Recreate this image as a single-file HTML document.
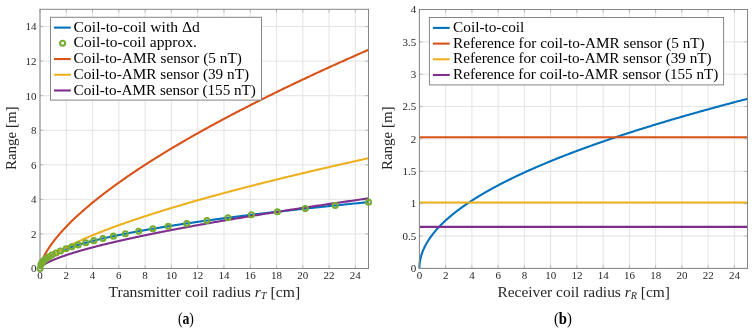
<!DOCTYPE html><html><head><meta charset="utf-8"><style>html,body{margin:0;padding:0;background:#fff;overflow:hidden}svg{display:block;will-change:transform}</style></head><body>
<svg width="754" height="333" viewBox="0 0 754 333" font-family='"Liberation Serif", serif'>
<rect width="754" height="333" fill="#fff"/>
<line x1="40.00" y1="9.30" x2="40.00" y2="268.50" stroke="#e3e3e3" stroke-width="1"/>
<line x1="66.28" y1="9.30" x2="66.28" y2="268.50" stroke="#e3e3e3" stroke-width="1"/>
<line x1="92.56" y1="9.30" x2="92.56" y2="268.50" stroke="#e3e3e3" stroke-width="1"/>
<line x1="118.84" y1="9.30" x2="118.84" y2="268.50" stroke="#e3e3e3" stroke-width="1"/>
<line x1="145.12" y1="9.30" x2="145.12" y2="268.50" stroke="#e3e3e3" stroke-width="1"/>
<line x1="171.40" y1="9.30" x2="171.40" y2="268.50" stroke="#e3e3e3" stroke-width="1"/>
<line x1="197.68" y1="9.30" x2="197.68" y2="268.50" stroke="#e3e3e3" stroke-width="1"/>
<line x1="223.96" y1="9.30" x2="223.96" y2="268.50" stroke="#e3e3e3" stroke-width="1"/>
<line x1="250.24" y1="9.30" x2="250.24" y2="268.50" stroke="#e3e3e3" stroke-width="1"/>
<line x1="276.52" y1="9.30" x2="276.52" y2="268.50" stroke="#e3e3e3" stroke-width="1"/>
<line x1="302.80" y1="9.30" x2="302.80" y2="268.50" stroke="#e3e3e3" stroke-width="1"/>
<line x1="329.08" y1="9.30" x2="329.08" y2="268.50" stroke="#e3e3e3" stroke-width="1"/>
<line x1="355.36" y1="9.30" x2="355.36" y2="268.50" stroke="#e3e3e3" stroke-width="1"/>
<line x1="40.00" y1="268.50" x2="368.50" y2="268.50" stroke="#e3e3e3" stroke-width="1"/>
<line x1="40.00" y1="233.94" x2="368.50" y2="233.94" stroke="#e3e3e3" stroke-width="1"/>
<line x1="40.00" y1="199.38" x2="368.50" y2="199.38" stroke="#e3e3e3" stroke-width="1"/>
<line x1="40.00" y1="164.82" x2="368.50" y2="164.82" stroke="#e3e3e3" stroke-width="1"/>
<line x1="40.00" y1="130.26" x2="368.50" y2="130.26" stroke="#e3e3e3" stroke-width="1"/>
<line x1="40.00" y1="95.70" x2="368.50" y2="95.70" stroke="#e3e3e3" stroke-width="1"/>
<line x1="40.00" y1="61.14" x2="368.50" y2="61.14" stroke="#e3e3e3" stroke-width="1"/>
<line x1="40.00" y1="26.58" x2="368.50" y2="26.58" stroke="#e3e3e3" stroke-width="1"/>
<line x1="419.40" y1="9.50" x2="419.40" y2="268.40" stroke="#e3e3e3" stroke-width="1"/>
<line x1="445.65" y1="9.50" x2="445.65" y2="268.40" stroke="#e3e3e3" stroke-width="1"/>
<line x1="471.90" y1="9.50" x2="471.90" y2="268.40" stroke="#e3e3e3" stroke-width="1"/>
<line x1="498.14" y1="9.50" x2="498.14" y2="268.40" stroke="#e3e3e3" stroke-width="1"/>
<line x1="524.39" y1="9.50" x2="524.39" y2="268.40" stroke="#e3e3e3" stroke-width="1"/>
<line x1="550.64" y1="9.50" x2="550.64" y2="268.40" stroke="#e3e3e3" stroke-width="1"/>
<line x1="576.89" y1="9.50" x2="576.89" y2="268.40" stroke="#e3e3e3" stroke-width="1"/>
<line x1="603.14" y1="9.50" x2="603.14" y2="268.40" stroke="#e3e3e3" stroke-width="1"/>
<line x1="629.38" y1="9.50" x2="629.38" y2="268.40" stroke="#e3e3e3" stroke-width="1"/>
<line x1="655.63" y1="9.50" x2="655.63" y2="268.40" stroke="#e3e3e3" stroke-width="1"/>
<line x1="681.88" y1="9.50" x2="681.88" y2="268.40" stroke="#e3e3e3" stroke-width="1"/>
<line x1="708.13" y1="9.50" x2="708.13" y2="268.40" stroke="#e3e3e3" stroke-width="1"/>
<line x1="734.38" y1="9.50" x2="734.38" y2="268.40" stroke="#e3e3e3" stroke-width="1"/>
<line x1="419.40" y1="268.40" x2="747.50" y2="268.40" stroke="#e3e3e3" stroke-width="1"/>
<line x1="419.40" y1="236.04" x2="747.50" y2="236.04" stroke="#e3e3e3" stroke-width="1"/>
<line x1="419.40" y1="203.67" x2="747.50" y2="203.67" stroke="#e3e3e3" stroke-width="1"/>
<line x1="419.40" y1="171.31" x2="747.50" y2="171.31" stroke="#e3e3e3" stroke-width="1"/>
<line x1="419.40" y1="138.95" x2="747.50" y2="138.95" stroke="#e3e3e3" stroke-width="1"/>
<line x1="419.40" y1="106.59" x2="747.50" y2="106.59" stroke="#e3e3e3" stroke-width="1"/>
<line x1="419.40" y1="74.22" x2="747.50" y2="74.22" stroke="#e3e3e3" stroke-width="1"/>
<line x1="419.40" y1="41.86" x2="747.50" y2="41.86" stroke="#e3e3e3" stroke-width="1"/>
<line x1="419.40" y1="9.50" x2="747.50" y2="9.50" stroke="#e3e3e3" stroke-width="1"/>
<path d="M40.00,268.50 L40.00,268.29 L40.01,268.09 L40.02,267.89 L40.03,267.70 L40.05,267.51 L40.07,267.32 L40.10,267.13 L40.13,266.95 L40.17,266.76 L40.21,266.58 L40.25,266.39 L40.30,266.21 L40.35,266.03 L40.40,265.84 L40.46,265.66 L40.53,265.48 L40.59,265.30 L40.67,265.12 L40.74,264.94 L40.82,264.76 L40.91,264.58 L40.99,264.40 L41.09,264.22 L41.18,264.04 L41.28,263.87 L41.39,263.69 L41.50,263.51 L41.61,263.33 L41.73,263.16 L41.85,262.98 L41.97,262.80 L42.10,262.63 L42.24,262.45 L42.37,262.28 L42.52,262.10 L42.66,261.92 L42.81,261.75 L42.96,261.57 L43.12,261.40 L43.29,261.22 L43.45,261.05 L43.62,260.88 L43.80,260.70 L43.97,260.53 L44.16,260.35 L44.34,260.18 L44.54,260.01 L44.73,259.83 L44.93,259.66 L45.13,259.49 L45.34,259.31 L45.55,259.14 L45.77,258.97 L45.99,258.80 L46.21,258.62 L46.44,258.45 L46.67,258.28 L46.91,258.11 L47.15,257.93 L47.39,257.76 L47.64,257.59 L47.89,257.42 L48.15,257.25 L48.41,257.08 L48.67,256.91 L48.94,256.73 L49.22,256.56 L49.49,256.39 L49.77,256.22 L50.06,256.05 L50.35,255.88 L50.64,255.71 L50.94,255.54 L51.24,255.37 L51.55,255.20 L51.86,255.03 L52.17,254.86 L52.49,254.69 L52.81,254.52 L53.14,254.35 L53.47,254.18 L53.81,254.01 L54.14,253.84 L54.49,253.67 L54.83,253.50 L55.18,253.33 L55.54,253.16 L55.90,252.99 L56.26,252.82 L56.63,252.65 L57.00,252.48 L57.38,252.32 L57.76,252.15 L58.14,251.98 L58.53,251.81 L58.92,251.64 L59.32,251.47 L59.72,251.30 L60.12,251.14 L60.53,250.97 L60.94,250.80 L61.36,250.63 L61.78,250.46 L62.21,250.29 L62.64,250.13 L63.07,249.96 L63.51,249.79 L63.95,249.62 L64.39,249.45 L64.84,249.29 L65.30,249.12 L65.75,248.95 L66.22,248.78 L66.68,248.62 L67.15,248.45 L67.63,248.28 L68.11,248.11 L68.59,247.95 L69.07,247.78 L69.56,247.61 L70.06,247.45 L70.56,247.28 L71.06,247.11 L71.57,246.95 L72.08,246.78 L72.60,246.61 L73.11,246.44 L73.64,246.28 L74.17,246.11 L74.70,245.94 L75.23,245.78 L75.77,245.61 L76.32,245.45 L76.87,245.28 L77.42,245.11 L77.97,244.95 L78.54,244.78 L79.10,244.61 L79.67,244.45 L80.24,244.28 L80.82,244.12 L81.40,243.95 L81.98,243.78 L82.57,243.62 L83.17,243.45 L83.76,243.29 L84.37,243.12 L84.97,242.95 L85.58,242.79 L86.20,242.62 L86.81,242.46 L87.44,242.29 L88.06,242.13 L88.69,241.96 L89.33,241.80 L89.96,241.63 L90.61,241.47 L91.25,241.30 L91.91,241.13 L92.56,240.97 L93.22,240.80 L93.88,240.64 L94.55,240.47 L95.22,240.31 L95.90,240.14 L96.58,239.98 L97.26,239.81 L97.95,239.65 L98.64,239.48 L99.34,239.32 L100.04,239.15 L100.74,238.99 L101.45,238.83 L102.16,238.66 L102.88,238.50 L103.60,238.33 L104.32,238.17 L105.05,238.00 L105.78,237.84 L106.52,237.67 L107.26,237.51 L108.01,237.34 L108.76,237.18 L109.51,237.02 L110.27,236.85 L111.03,236.69 L111.80,236.52 L112.57,236.36 L113.34,236.20 L114.12,236.03 L114.90,235.87 L115.69,235.70 L116.48,235.54 L117.27,235.38 L118.07,235.21 L118.87,235.05 L119.68,234.88 L120.49,234.72 L121.31,234.56 L122.12,234.39 L122.95,234.23 L123.78,234.07 L124.61,233.90 L125.44,233.74 L126.28,233.57 L127.13,233.41 L127.97,233.25 L128.83,233.08 L129.68,232.92 L130.54,232.76 L131.41,232.59 L132.28,232.43 L133.15,232.27 L134.02,232.10 L134.91,231.94 L135.79,231.78 L136.68,231.61 L137.57,231.45 L138.47,231.29 L139.37,231.12 L140.28,230.96 L141.19,230.80 L142.10,230.64 L143.02,230.47 L143.94,230.31 L144.87,230.15 L145.80,229.98 L146.73,229.82 L147.67,229.66 L148.61,229.50 L149.56,229.33 L150.51,229.17 L151.46,229.01 L152.42,228.84 L153.38,228.68 L154.35,228.52 L155.32,228.36 L156.30,228.19 L157.28,228.03 L158.26,227.87 L159.25,227.71 L160.24,227.54 L161.23,227.38 L162.23,227.22 L163.24,227.06 L164.25,226.89 L165.26,226.73 L166.28,226.57 L167.30,226.41 L168.32,226.24 L169.35,226.08 L170.38,225.92 L171.42,225.76 L172.46,225.60 L173.50,225.43 L174.55,225.27 L175.61,225.11 L176.66,224.95 L177.73,224.79 L178.79,224.62 L179.86,224.46 L180.93,224.30 L182.01,224.14 L183.09,223.98 L184.18,223.81 L185.27,223.65 L186.37,223.49 L187.46,223.33 L188.57,223.17 L189.67,223.00 L190.78,222.84 L191.90,222.68 L193.02,222.52 L194.14,222.36 L195.27,222.20 L196.40,222.03 L197.53,221.87 L198.67,221.71 L199.82,221.55 L200.96,221.39 L202.12,221.23 L203.27,221.06 L204.43,220.90 L205.60,220.74 L206.77,220.58 L207.94,220.42 L209.11,220.26 L210.29,220.10 L211.48,219.94 L212.67,219.77 L213.86,219.61 L215.06,219.45 L216.26,219.29 L217.46,219.13 L218.67,218.97 L219.89,218.81 L221.10,218.65 L222.33,218.48 L223.55,218.32 L224.78,218.16 L226.02,218.00 L227.25,217.84 L228.50,217.68 L229.74,217.52 L230.99,217.36 L232.25,217.20 L233.50,217.03 L234.77,216.87 L236.03,216.71 L237.31,216.55 L238.58,216.39 L239.86,216.23 L241.14,216.07 L242.43,215.91 L243.72,215.75 L245.02,215.59 L246.32,215.43 L247.62,215.27 L248.93,215.11 L250.24,214.94 L251.56,214.78 L252.88,214.62 L254.20,214.46 L255.53,214.30 L256.86,214.14 L258.20,213.98 L259.54,213.82 L260.88,213.66 L262.23,213.50 L263.59,213.34 L264.94,213.18 L266.30,213.02 L267.67,212.86 L269.04,212.70 L270.41,212.54 L271.79,212.38 L273.17,212.22 L274.56,212.06 L275.95,211.90 L277.34,211.73 L278.74,211.57 L280.14,211.41 L281.55,211.25 L282.96,211.09 L284.37,210.93 L285.79,210.77 L287.21,210.61 L288.64,210.45 L290.07,210.29 L291.51,210.13 L292.95,209.97 L294.39,209.81 L295.84,209.65 L297.29,209.49 L298.75,209.33 L300.20,209.17 L301.67,209.01 L303.14,208.85 L304.61,208.69 L306.08,208.53 L307.57,208.37 L309.05,208.21 L310.54,208.05 L312.03,207.89 L313.53,207.73 L315.03,207.57 L316.53,207.41 L318.04,207.25 L319.56,207.09 L321.07,206.93 L322.59,206.78 L324.12,206.62 L325.65,206.46 L327.18,206.30 L328.72,206.14 L330.26,205.98 L331.81,205.82 L333.36,205.66 L334.91,205.50 L336.47,205.34 L338.03,205.18 L339.60,205.02 L341.17,204.86 L342.75,204.70 L344.32,204.54 L345.91,204.38 L347.49,204.22 L349.09,204.06 L350.68,203.90 L352.28,203.74 L353.88,203.58 L355.49,203.42 L357.10,203.27 L358.72,203.11 L360.34,202.95 L361.96,202.79 L363.59,202.63 L365.22,202.47 L366.86,202.31 L368.50,202.15" fill="none" stroke="#0072BD" stroke-width="2.1"/>
<path d="M40.00,268.50 L40.00,268.41 L40.01,268.29 L40.02,268.14 L40.03,267.98 L40.05,267.80 L40.07,267.61 L40.10,267.41 L40.13,267.20 L40.17,266.98 L40.21,266.76 L40.25,266.53 L40.30,266.29 L40.35,266.04 L40.40,265.79 L40.46,265.54 L40.53,265.27 L40.59,265.01 L40.67,264.74 L40.74,264.46 L40.82,264.18 L40.91,263.89 L40.99,263.61 L41.09,263.31 L41.18,263.01 L41.28,262.71 L41.39,262.41 L41.50,262.10 L41.61,261.79 L41.73,261.47 L41.85,261.15 L41.97,260.83 L42.10,260.50 L42.24,260.17 L42.37,259.84 L42.52,259.51 L42.66,259.17 L42.81,258.83 L42.96,258.48 L43.12,258.14 L43.29,257.79 L43.45,257.44 L43.62,257.08 L43.80,256.72 L43.97,256.36 L44.16,256.00 L44.34,255.64 L44.54,255.27 L44.73,254.90 L44.93,254.53 L45.13,254.15 L45.34,253.77 L45.55,253.39 L45.77,253.01 L45.99,252.63 L46.21,252.24 L46.44,251.85 L46.67,251.46 L46.91,251.07 L47.15,250.68 L47.39,250.28 L47.64,249.88 L47.89,249.48 L48.15,249.08 L48.41,248.67 L48.67,248.27 L48.94,247.86 L49.22,247.45 L49.49,247.03 L49.77,246.62 L50.06,246.20 L50.35,245.78 L50.64,245.36 L50.94,244.94 L51.24,244.52 L51.55,244.09 L51.86,243.67 L52.17,243.24 L52.49,242.81 L52.81,242.37 L53.14,241.94 L53.47,241.50 L53.81,241.07 L54.14,240.63 L54.49,240.19 L54.83,239.75 L55.18,239.30 L55.54,238.86 L55.90,238.41 L56.26,237.96 L56.63,237.51 L57.00,237.06 L57.38,236.60 L57.76,236.15 L58.14,235.69 L58.53,235.23 L58.92,234.78 L59.32,234.31 L59.72,233.85 L60.12,233.39 L60.53,232.92 L60.94,232.46 L61.36,231.99 L61.78,231.52 L62.21,231.05 L62.64,230.57 L63.07,230.10 L63.51,229.63 L63.95,229.15 L64.39,228.67 L64.84,228.19 L65.30,227.71 L65.75,227.23 L66.22,226.75 L66.68,226.26 L67.15,225.77 L67.63,225.29 L68.11,224.80 L68.59,224.31 L69.07,223.82 L69.56,223.33 L70.06,222.83 L70.56,222.34 L71.06,221.84 L71.57,221.34 L72.08,220.84 L72.60,220.34 L73.11,219.84 L73.64,219.34 L74.17,218.84 L74.70,218.33 L75.23,217.82 L75.77,217.32 L76.32,216.81 L76.87,216.30 L77.42,215.79 L77.97,215.28 L78.54,214.76 L79.10,214.25 L79.67,213.73 L80.24,213.22 L80.82,212.70 L81.40,212.18 L81.98,211.66 L82.57,211.14 L83.17,210.62 L83.76,210.09 L84.37,209.57 L84.97,209.04 L85.58,208.51 L86.20,207.99 L86.81,207.46 L87.44,206.93 L88.06,206.40 L88.69,205.86 L89.33,205.33 L89.96,204.80 L90.61,204.26 L91.25,203.72 L91.91,203.19 L92.56,202.65 L93.22,202.11 L93.88,201.57 L94.55,201.03 L95.22,200.48 L95.90,199.94 L96.58,199.39 L97.26,198.85 L97.95,198.30 L98.64,197.75 L99.34,197.21 L100.04,196.66 L100.74,196.10 L101.45,195.55 L102.16,195.00 L102.88,194.45 L103.60,193.89 L104.32,193.34 L105.05,192.78 L105.78,192.22 L106.52,191.66 L107.26,191.10 L108.01,190.54 L108.76,189.98 L109.51,189.42 L110.27,188.85 L111.03,188.29 L111.80,187.72 L112.57,187.16 L113.34,186.59 L114.12,186.02 L114.90,185.45 L115.69,184.88 L116.48,184.31 L117.27,183.74 L118.07,183.17 L118.87,182.59 L119.68,182.02 L120.49,181.44 L121.31,180.87 L122.12,180.29 L122.95,179.71 L123.78,179.13 L124.61,178.55 L125.44,177.97 L126.28,177.39 L127.13,176.81 L127.97,176.22 L128.83,175.64 L129.68,175.05 L130.54,174.47 L131.41,173.88 L132.28,173.29 L133.15,172.70 L134.02,172.11 L134.91,171.52 L135.79,170.93 L136.68,170.34 L137.57,169.75 L138.47,169.15 L139.37,168.56 L140.28,167.96 L141.19,167.37 L142.10,166.77 L143.02,166.17 L143.94,165.57 L144.87,164.97 L145.80,164.37 L146.73,163.77 L147.67,163.17 L148.61,162.57 L149.56,161.96 L150.51,161.36 L151.46,160.75 L152.42,160.15 L153.38,159.54 L154.35,158.93 L155.32,158.32 L156.30,157.71 L157.28,157.10 L158.26,156.49 L159.25,155.88 L160.24,155.27 L161.23,154.66 L162.23,154.04 L163.24,153.43 L164.25,152.81 L165.26,152.19 L166.28,151.58 L167.30,150.96 L168.32,150.34 L169.35,149.72 L170.38,149.10 L171.42,148.48 L172.46,147.86 L173.50,147.23 L174.55,146.61 L175.61,145.99 L176.66,145.36 L177.73,144.74 L178.79,144.11 L179.86,143.48 L180.93,142.86 L182.01,142.23 L183.09,141.60 L184.18,140.97 L185.27,140.34 L186.37,139.70 L187.46,139.07 L188.57,138.44 L189.67,137.81 L190.78,137.17 L191.90,136.54 L193.02,135.90 L194.14,135.26 L195.27,134.63 L196.40,133.99 L197.53,133.35 L198.67,132.71 L199.82,132.07 L200.96,131.43 L202.12,130.79 L203.27,130.14 L204.43,129.50 L205.60,128.86 L206.77,128.21 L207.94,127.57 L209.11,126.92 L210.29,126.28 L211.48,125.63 L212.67,124.98 L213.86,124.33 L215.06,123.68 L216.26,123.03 L217.46,122.38 L218.67,121.73 L219.89,121.08 L221.10,120.43 L222.33,119.77 L223.55,119.12 L224.78,118.46 L226.02,117.81 L227.25,117.15 L228.50,116.49 L229.74,115.84 L230.99,115.18 L232.25,114.52 L233.50,113.86 L234.77,113.20 L236.03,112.54 L237.31,111.88 L238.58,111.22 L239.86,110.55 L241.14,109.89 L242.43,109.23 L243.72,108.56 L245.02,107.89 L246.32,107.23 L247.62,106.56 L248.93,105.89 L250.24,105.23 L251.56,104.56 L252.88,103.89 L254.20,103.22 L255.53,102.55 L256.86,101.88 L258.20,101.20 L259.54,100.53 L260.88,99.86 L262.23,99.18 L263.59,98.51 L264.94,97.84 L266.30,97.16 L267.67,96.48 L269.04,95.81 L270.41,95.13 L271.79,94.45 L273.17,93.77 L274.56,93.09 L275.95,92.41 L277.34,91.73 L278.74,91.05 L280.14,90.37 L281.55,89.68 L282.96,89.00 L284.37,88.32 L285.79,87.63 L287.21,86.95 L288.64,86.26 L290.07,85.58 L291.51,84.89 L292.95,84.20 L294.39,83.51 L295.84,82.82 L297.29,82.14 L298.75,81.45 L300.20,80.75 L301.67,80.06 L303.14,79.37 L304.61,78.68 L306.08,77.99 L307.57,77.29 L309.05,76.60 L310.54,75.90 L312.03,75.21 L313.53,74.51 L315.03,73.82 L316.53,73.12 L318.04,72.42 L319.56,71.72 L321.07,71.02 L322.59,70.32 L324.12,69.62 L325.65,68.92 L327.18,68.22 L328.72,67.52 L330.26,66.82 L331.81,66.12 L333.36,65.41 L334.91,64.71 L336.47,64.00 L338.03,63.30 L339.60,62.59 L341.17,61.89 L342.75,61.18 L344.32,60.47 L345.91,59.76 L347.49,59.05 L349.09,58.35 L350.68,57.64 L352.28,56.92 L353.88,56.21 L355.49,55.50 L357.10,54.79 L358.72,54.08 L360.34,53.36 L361.96,52.65 L363.59,51.94 L365.22,51.22 L366.86,50.51 L368.50,49.79" fill="none" stroke="#D95319" stroke-width="2.1"/>
<path d="M40.00,268.50 L40.00,268.46 L40.01,268.39 L40.02,268.32 L40.03,268.24 L40.05,268.15 L40.07,268.05 L40.10,267.95 L40.13,267.84 L40.17,267.73 L40.21,267.62 L40.25,267.50 L40.30,267.38 L40.35,267.26 L40.40,267.13 L40.46,267.01 L40.53,266.87 L40.59,266.74 L40.67,266.60 L40.74,266.46 L40.82,266.32 L40.91,266.18 L40.99,266.03 L41.09,265.88 L41.18,265.73 L41.28,265.58 L41.39,265.43 L41.50,265.27 L41.61,265.11 L41.73,264.96 L41.85,264.79 L41.97,264.63 L42.10,264.47 L42.24,264.30 L42.37,264.13 L42.52,263.97 L42.66,263.79 L42.81,263.62 L42.96,263.45 L43.12,263.27 L43.29,263.10 L43.45,262.92 L43.62,262.74 L43.80,262.56 L43.97,262.38 L44.16,262.20 L44.34,262.01 L44.54,261.83 L44.73,261.64 L44.93,261.45 L45.13,261.26 L45.34,261.07 L45.55,260.88 L45.77,260.69 L45.99,260.50 L46.21,260.30 L46.44,260.11 L46.67,259.91 L46.91,259.71 L47.15,259.51 L47.39,259.31 L47.64,259.11 L47.89,258.91 L48.15,258.71 L48.41,258.50 L48.67,258.30 L48.94,258.09 L49.22,257.88 L49.49,257.67 L49.77,257.47 L50.06,257.26 L50.35,257.04 L50.64,256.83 L50.94,256.62 L51.24,256.41 L51.55,256.19 L51.86,255.98 L52.17,255.76 L52.49,255.54 L52.81,255.33 L53.14,255.11 L53.47,254.89 L53.81,254.67 L54.14,254.44 L54.49,254.22 L54.83,254.00 L55.18,253.78 L55.54,253.55 L55.90,253.33 L56.26,253.10 L56.63,252.87 L57.00,252.64 L57.38,252.42 L57.76,252.19 L58.14,251.96 L58.53,251.72 L58.92,251.49 L59.32,251.26 L59.72,251.03 L60.12,250.79 L60.53,250.56 L60.94,250.32 L61.36,250.09 L61.78,249.85 L62.21,249.61 L62.64,249.37 L63.07,249.14 L63.51,248.90 L63.95,248.66 L64.39,248.41 L64.84,248.17 L65.30,247.93 L65.75,247.69 L66.22,247.44 L66.68,247.20 L67.15,246.95 L67.63,246.71 L68.11,246.46 L68.59,246.22 L69.07,245.97 L69.56,245.72 L70.06,245.47 L70.56,245.22 L71.06,244.97 L71.57,244.72 L72.08,244.47 L72.60,244.22 L73.11,243.96 L73.64,243.71 L74.17,243.46 L74.70,243.20 L75.23,242.95 L75.77,242.69 L76.32,242.43 L76.87,242.18 L77.42,241.92 L77.97,241.66 L78.54,241.40 L79.10,241.14 L79.67,240.88 L80.24,240.62 L80.82,240.36 L81.40,240.10 L81.98,239.84 L82.57,239.57 L83.17,239.31 L83.76,239.05 L84.37,238.78 L84.97,238.52 L85.58,238.25 L86.20,237.98 L86.81,237.72 L87.44,237.45 L88.06,237.18 L88.69,236.91 L89.33,236.64 L89.96,236.38 L90.61,236.11 L91.25,235.83 L91.91,235.56 L92.56,235.29 L93.22,235.02 L93.88,234.75 L94.55,234.47 L95.22,234.20 L95.90,233.93 L96.58,233.65 L97.26,233.38 L97.95,233.10 L98.64,232.82 L99.34,232.55 L100.04,232.27 L100.74,231.99 L101.45,231.71 L102.16,231.43 L102.88,231.16 L103.60,230.88 L104.32,230.60 L105.05,230.31 L105.78,230.03 L106.52,229.75 L107.26,229.47 L108.01,229.19 L108.76,228.90 L109.51,228.62 L110.27,228.34 L111.03,228.05 L111.80,227.77 L112.57,227.48 L113.34,227.19 L114.12,226.91 L114.90,226.62 L115.69,226.33 L116.48,226.05 L117.27,225.76 L118.07,225.47 L118.87,225.18 L119.68,224.89 L120.49,224.60 L121.31,224.31 L122.12,224.02 L122.95,223.73 L123.78,223.43 L124.61,223.14 L125.44,222.85 L126.28,222.55 L127.13,222.26 L127.97,221.97 L128.83,221.67 L129.68,221.38 L130.54,221.08 L131.41,220.78 L132.28,220.49 L133.15,220.19 L134.02,219.89 L134.91,219.60 L135.79,219.30 L136.68,219.00 L137.57,218.70 L138.47,218.40 L139.37,218.10 L140.28,217.80 L141.19,217.50 L142.10,217.20 L143.02,216.90 L143.94,216.60 L144.87,216.29 L145.80,215.99 L146.73,215.69 L147.67,215.38 L148.61,215.08 L149.56,214.77 L150.51,214.47 L151.46,214.16 L152.42,213.86 L153.38,213.55 L154.35,213.25 L155.32,212.94 L156.30,212.63 L157.28,212.32 L158.26,212.02 L159.25,211.71 L160.24,211.40 L161.23,211.09 L162.23,210.78 L163.24,210.47 L164.25,210.16 L165.26,209.85 L166.28,209.54 L167.30,209.23 L168.32,208.91 L169.35,208.60 L170.38,208.29 L171.42,207.97 L172.46,207.66 L173.50,207.35 L174.55,207.03 L175.61,206.72 L176.66,206.40 L177.73,206.09 L178.79,205.77 L179.86,205.46 L180.93,205.14 L182.01,204.82 L183.09,204.50 L184.18,204.19 L185.27,203.87 L186.37,203.55 L187.46,203.23 L188.57,202.91 L189.67,202.59 L190.78,202.27 L191.90,201.95 L193.02,201.63 L194.14,201.31 L195.27,200.99 L196.40,200.67 L197.53,200.35 L198.67,200.02 L199.82,199.70 L200.96,199.38 L202.12,199.05 L203.27,198.73 L204.43,198.40 L205.60,198.08 L206.77,197.76 L207.94,197.43 L209.11,197.10 L210.29,196.78 L211.48,196.45 L212.67,196.13 L213.86,195.80 L215.06,195.47 L216.26,195.14 L217.46,194.81 L218.67,194.49 L219.89,194.16 L221.10,193.83 L222.33,193.50 L223.55,193.17 L224.78,192.84 L226.02,192.51 L227.25,192.18 L228.50,191.85 L229.74,191.51 L230.99,191.18 L232.25,190.85 L233.50,190.52 L234.77,190.18 L236.03,189.85 L237.31,189.52 L238.58,189.18 L239.86,188.85 L241.14,188.51 L242.43,188.18 L243.72,187.84 L245.02,187.51 L246.32,187.17 L247.62,186.84 L248.93,186.50 L250.24,186.16 L251.56,185.83 L252.88,185.49 L254.20,185.15 L255.53,184.81 L256.86,184.47 L258.20,184.14 L259.54,183.80 L260.88,183.46 L262.23,183.12 L263.59,182.78 L264.94,182.44 L266.30,182.10 L267.67,181.75 L269.04,181.41 L270.41,181.07 L271.79,180.73 L273.17,180.39 L274.56,180.04 L275.95,179.70 L277.34,179.36 L278.74,179.01 L280.14,178.67 L281.55,178.33 L282.96,177.98 L284.37,177.64 L285.79,177.29 L287.21,176.95 L288.64,176.60 L290.07,176.25 L291.51,175.91 L292.95,175.56 L294.39,175.21 L295.84,174.87 L297.29,174.52 L298.75,174.17 L300.20,173.82 L301.67,173.47 L303.14,173.13 L304.61,172.78 L306.08,172.43 L307.57,172.08 L309.05,171.73 L310.54,171.38 L312.03,171.03 L313.53,170.67 L315.03,170.32 L316.53,169.97 L318.04,169.62 L319.56,169.27 L321.07,168.92 L322.59,168.56 L324.12,168.21 L325.65,167.86 L327.18,167.50 L328.72,167.15 L330.26,166.79 L331.81,166.44 L333.36,166.09 L334.91,165.73 L336.47,165.38 L338.03,165.02 L339.60,164.66 L341.17,164.31 L342.75,163.95 L344.32,163.59 L345.91,163.24 L347.49,162.88 L349.09,162.52 L350.68,162.16 L352.28,161.81 L353.88,161.45 L355.49,161.09 L357.10,160.73 L358.72,160.37 L360.34,160.01 L361.96,159.65 L363.59,159.29 L365.22,158.93 L366.86,158.57 L368.50,158.21" fill="none" stroke="#EDB120" stroke-width="2.1"/>
<path d="M40.00,268.50 L40.00,268.47 L40.01,268.43 L40.02,268.38 L40.03,268.33 L40.05,268.27 L40.07,268.21 L40.10,268.15 L40.13,268.08 L40.17,268.01 L40.21,267.94 L40.25,267.87 L40.30,267.79 L40.35,267.71 L40.40,267.63 L40.46,267.55 L40.53,267.47 L40.59,267.38 L40.67,267.29 L40.74,267.21 L40.82,267.12 L40.91,267.02 L40.99,266.93 L41.09,266.84 L41.18,266.74 L41.28,266.65 L41.39,266.55 L41.50,266.45 L41.61,266.35 L41.73,266.25 L41.85,266.14 L41.97,266.04 L42.10,265.94 L42.24,265.83 L42.37,265.73 L42.52,265.62 L42.66,265.51 L42.81,265.40 L42.96,265.29 L43.12,265.18 L43.29,265.07 L43.45,264.95 L43.62,264.84 L43.80,264.73 L43.97,264.61 L44.16,264.49 L44.34,264.38 L44.54,264.26 L44.73,264.14 L44.93,264.02 L45.13,263.90 L45.34,263.78 L45.55,263.66 L45.77,263.54 L45.99,263.41 L46.21,263.29 L46.44,263.16 L46.67,263.04 L46.91,262.91 L47.15,262.79 L47.39,262.66 L47.64,262.53 L47.89,262.40 L48.15,262.27 L48.41,262.15 L48.67,262.01 L48.94,261.88 L49.22,261.75 L49.49,261.62 L49.77,261.49 L50.06,261.35 L50.35,261.22 L50.64,261.08 L50.94,260.95 L51.24,260.81 L51.55,260.68 L51.86,260.54 L52.17,260.40 L52.49,260.27 L52.81,260.13 L53.14,259.99 L53.47,259.85 L53.81,259.71 L54.14,259.57 L54.49,259.43 L54.83,259.28 L55.18,259.14 L55.54,259.00 L55.90,258.86 L56.26,258.71 L56.63,258.57 L57.00,258.42 L57.38,258.28 L57.76,258.13 L58.14,257.98 L58.53,257.84 L58.92,257.69 L59.32,257.54 L59.72,257.39 L60.12,257.25 L60.53,257.10 L60.94,256.95 L61.36,256.80 L61.78,256.65 L62.21,256.50 L62.64,256.34 L63.07,256.19 L63.51,256.04 L63.95,255.89 L64.39,255.73 L64.84,255.58 L65.30,255.43 L65.75,255.27 L66.22,255.12 L66.68,254.96 L67.15,254.81 L67.63,254.65 L68.11,254.49 L68.59,254.34 L69.07,254.18 L69.56,254.02 L70.06,253.86 L70.56,253.70 L71.06,253.54 L71.57,253.39 L72.08,253.23 L72.60,253.07 L73.11,252.90 L73.64,252.74 L74.17,252.58 L74.70,252.42 L75.23,252.26 L75.77,252.10 L76.32,251.93 L76.87,251.77 L77.42,251.61 L77.97,251.44 L78.54,251.28 L79.10,251.11 L79.67,250.95 L80.24,250.78 L80.82,250.61 L81.40,250.45 L81.98,250.28 L82.57,250.11 L83.17,249.95 L83.76,249.78 L84.37,249.61 L84.97,249.44 L85.58,249.27 L86.20,249.10 L86.81,248.94 L87.44,248.77 L88.06,248.60 L88.69,248.42 L89.33,248.25 L89.96,248.08 L90.61,247.91 L91.25,247.74 L91.91,247.57 L92.56,247.39 L93.22,247.22 L93.88,247.05 L94.55,246.87 L95.22,246.70 L95.90,246.53 L96.58,246.35 L97.26,246.18 L97.95,246.00 L98.64,245.83 L99.34,245.65 L100.04,245.47 L100.74,245.30 L101.45,245.12 L102.16,244.94 L102.88,244.76 L103.60,244.59 L104.32,244.41 L105.05,244.23 L105.78,244.05 L106.52,243.87 L107.26,243.69 L108.01,243.51 L108.76,243.33 L109.51,243.15 L110.27,242.97 L111.03,242.79 L111.80,242.61 L112.57,242.43 L113.34,242.25 L114.12,242.06 L114.90,241.88 L115.69,241.70 L116.48,241.52 L117.27,241.33 L118.07,241.15 L118.87,240.97 L119.68,240.78 L120.49,240.60 L121.31,240.41 L122.12,240.23 L122.95,240.04 L123.78,239.86 L124.61,239.67 L125.44,239.48 L126.28,239.30 L127.13,239.11 L127.97,238.92 L128.83,238.74 L129.68,238.55 L130.54,238.36 L131.41,238.17 L132.28,237.98 L133.15,237.80 L134.02,237.61 L134.91,237.42 L135.79,237.23 L136.68,237.04 L137.57,236.85 L138.47,236.66 L139.37,236.47 L140.28,236.28 L141.19,236.09 L142.10,235.89 L143.02,235.70 L143.94,235.51 L144.87,235.32 L145.80,235.13 L146.73,234.93 L147.67,234.74 L148.61,234.55 L149.56,234.35 L150.51,234.16 L151.46,233.97 L152.42,233.77 L153.38,233.58 L154.35,233.38 L155.32,233.19 L156.30,232.99 L157.28,232.80 L158.26,232.60 L159.25,232.40 L160.24,232.21 L161.23,232.01 L162.23,231.81 L163.24,231.62 L164.25,231.42 L165.26,231.22 L166.28,231.02 L167.30,230.83 L168.32,230.63 L169.35,230.43 L170.38,230.23 L171.42,230.03 L172.46,229.83 L173.50,229.63 L174.55,229.43 L175.61,229.23 L176.66,229.03 L177.73,228.83 L178.79,228.63 L179.86,228.43 L180.93,228.23 L182.01,228.03 L183.09,227.83 L184.18,227.62 L185.27,227.42 L186.37,227.22 L187.46,227.02 L188.57,226.81 L189.67,226.61 L190.78,226.41 L191.90,226.20 L193.02,226.00 L194.14,225.80 L195.27,225.59 L196.40,225.39 L197.53,225.18 L198.67,224.98 L199.82,224.77 L200.96,224.57 L202.12,224.36 L203.27,224.16 L204.43,223.95 L205.60,223.74 L206.77,223.54 L207.94,223.33 L209.11,223.12 L210.29,222.92 L211.48,222.71 L212.67,222.50 L213.86,222.29 L215.06,222.08 L216.26,221.88 L217.46,221.67 L218.67,221.46 L219.89,221.25 L221.10,221.04 L222.33,220.83 L223.55,220.62 L224.78,220.41 L226.02,220.20 L227.25,219.99 L228.50,219.78 L229.74,219.57 L230.99,219.36 L232.25,219.15 L233.50,218.94 L234.77,218.72 L236.03,218.51 L237.31,218.30 L238.58,218.09 L239.86,217.88 L241.14,217.66 L242.43,217.45 L243.72,217.24 L245.02,217.02 L246.32,216.81 L247.62,216.60 L248.93,216.38 L250.24,216.17 L251.56,215.95 L252.88,215.74 L254.20,215.53 L255.53,215.31 L256.86,215.09 L258.20,214.88 L259.54,214.66 L260.88,214.45 L262.23,214.23 L263.59,214.02 L264.94,213.80 L266.30,213.58 L267.67,213.37 L269.04,213.15 L270.41,212.93 L271.79,212.71 L273.17,212.50 L274.56,212.28 L275.95,212.06 L277.34,211.84 L278.74,211.62 L280.14,211.41 L281.55,211.19 L282.96,210.97 L284.37,210.75 L285.79,210.53 L287.21,210.31 L288.64,210.09 L290.07,209.87 L291.51,209.65 L292.95,209.43 L294.39,209.21 L295.84,208.99 L297.29,208.77 L298.75,208.55 L300.20,208.33 L301.67,208.10 L303.14,207.88 L304.61,207.66 L306.08,207.44 L307.57,207.22 L309.05,206.99 L310.54,206.77 L312.03,206.55 L313.53,206.32 L315.03,206.10 L316.53,205.88 L318.04,205.65 L319.56,205.43 L321.07,205.21 L322.59,204.98 L324.12,204.76 L325.65,204.53 L327.18,204.31 L328.72,204.08 L330.26,203.86 L331.81,203.63 L333.36,203.41 L334.91,203.18 L336.47,202.96 L338.03,202.73 L339.60,202.50 L341.17,202.28 L342.75,202.05 L344.32,201.82 L345.91,201.60 L347.49,201.37 L349.09,201.14 L350.68,200.92 L352.28,200.69 L353.88,200.46 L355.49,200.23 L357.10,200.00 L358.72,199.77 L360.34,199.55 L361.96,199.32 L363.59,199.09 L365.22,198.86 L366.86,198.63 L368.50,198.40" fill="none" stroke="#7E2F8E" stroke-width="2.1"/>
<path d="M419.40,268.40 L419.40,267.98 L419.41,267.55 L419.42,267.13 L419.43,266.70 L419.45,266.28 L419.47,265.86 L419.50,265.43 L419.53,265.01 L419.57,264.58 L419.61,264.16 L419.65,263.74 L419.70,263.31 L419.75,262.89 L419.80,262.46 L419.86,262.04 L419.92,261.62 L419.99,261.19 L420.06,260.77 L420.14,260.34 L420.22,259.92 L420.30,259.50 L420.39,259.07 L420.48,258.65 L420.58,258.23 L420.68,257.80 L420.79,257.38 L420.89,256.95 L421.01,256.53 L421.12,256.11 L421.25,255.68 L421.37,255.26 L421.50,254.83 L421.63,254.41 L421.77,253.99 L421.91,253.56 L422.06,253.14 L422.21,252.71 L422.36,252.29 L422.52,251.87 L422.68,251.44 L422.85,251.02 L423.02,250.59 L423.19,250.17 L423.37,249.75 L423.55,249.32 L423.74,248.90 L423.93,248.47 L424.12,248.05 L424.32,247.63 L424.53,247.20 L424.73,246.78 L424.94,246.35 L425.16,245.93 L425.38,245.51 L425.60,245.08 L425.83,244.66 L426.06,244.23 L426.30,243.81 L426.54,243.39 L426.78,242.96 L427.03,242.54 L427.28,242.12 L427.54,241.69 L427.80,241.27 L428.06,240.84 L428.33,240.42 L428.61,240.00 L428.88,239.57 L429.16,239.15 L429.45,238.72 L429.74,238.30 L430.03,237.88 L430.33,237.45 L430.63,237.03 L430.93,236.60 L431.24,236.18 L431.56,235.76 L431.88,235.33 L432.20,234.91 L432.52,234.48 L432.85,234.06 L433.19,233.64 L433.53,233.21 L433.87,232.79 L434.22,232.36 L434.57,231.94 L434.92,231.52 L435.28,231.09 L435.64,230.67 L436.01,230.24 L436.38,229.82 L436.76,229.40 L437.14,228.97 L437.52,228.55 L437.91,228.12 L438.30,227.70 L438.69,227.28 L439.09,226.85 L439.50,226.43 L439.91,226.01 L440.32,225.58 L440.73,225.16 L441.16,224.73 L441.58,224.31 L442.01,223.89 L442.44,223.46 L442.88,223.04 L443.32,222.61 L443.76,222.19 L444.21,221.77 L444.67,221.34 L445.12,220.92 L445.58,220.49 L446.05,220.07 L446.52,219.65 L446.99,219.22 L447.47,218.80 L447.95,218.37 L448.44,217.95 L448.93,217.53 L449.42,217.10 L449.92,216.68 L450.42,216.25 L450.93,215.83 L451.44,215.41 L451.96,214.98 L452.47,214.56 L453.00,214.13 L453.52,213.71 L454.06,213.29 L454.59,212.86 L455.13,212.44 L455.67,212.01 L456.22,211.59 L456.77,211.17 L457.33,210.74 L457.89,210.32 L458.45,209.90 L459.02,209.47 L459.59,209.05 L460.17,208.62 L460.75,208.20 L461.33,207.78 L461.92,207.35 L462.51,206.93 L463.11,206.50 L463.71,206.08 L464.32,205.66 L464.93,205.23 L465.54,204.81 L466.16,204.38 L466.78,203.96 L467.40,203.54 L468.03,203.11 L468.67,202.69 L469.30,202.26 L469.95,201.84 L470.59,201.42 L471.24,200.99 L471.90,200.57 L472.55,200.14 L473.22,199.72 L473.88,199.30 L474.55,198.87 L475.23,198.45 L475.91,198.02 L476.59,197.60 L477.28,197.18 L477.97,196.75 L478.66,196.33 L479.36,195.90 L480.07,195.48 L480.77,195.06 L481.48,194.63 L482.20,194.21 L482.92,193.79 L483.64,193.36 L484.37,192.94 L485.10,192.51 L485.84,192.09 L486.58,191.67 L487.32,191.24 L488.07,190.82 L488.83,190.39 L489.58,189.97 L490.34,189.55 L491.11,189.12 L491.88,188.70 L492.65,188.27 L493.43,187.85 L494.21,187.43 L494.99,187.00 L495.78,186.58 L496.58,186.15 L497.38,185.73 L498.18,185.31 L498.98,184.88 L499.79,184.46 L500.61,184.03 L501.42,183.61 L502.25,183.19 L503.07,182.76 L503.90,182.34 L504.74,181.91 L505.58,181.49 L506.42,181.07 L507.27,180.64 L508.12,180.22 L508.97,179.79 L509.83,179.37 L510.70,178.95 L511.56,178.52 L512.43,178.10 L513.31,177.67 L514.19,177.25 L515.07,176.83 L515.96,176.40 L516.85,175.98 L517.75,175.56 L518.65,175.13 L519.55,174.71 L520.46,174.28 L521.38,173.86 L522.29,173.44 L523.21,173.01 L524.14,172.59 L525.07,172.16 L526.00,171.74 L526.94,171.32 L527.88,170.89 L528.82,170.47 L529.77,170.04 L530.73,169.62 L531.68,169.20 L532.65,168.77 L533.61,168.35 L534.58,167.92 L535.56,167.50 L536.53,167.08 L537.52,166.65 L538.50,166.23 L539.49,165.80 L540.49,165.38 L541.49,164.96 L542.49,164.53 L543.50,164.11 L544.51,163.68 L545.52,163.26 L546.54,162.84 L547.56,162.41 L548.59,161.99 L549.62,161.56 L550.66,161.14 L551.70,160.72 L552.74,160.29 L553.79,159.87 L554.84,159.45 L555.90,159.02 L556.96,158.60 L558.02,158.17 L559.09,157.75 L560.16,157.33 L561.24,156.90 L562.32,156.48 L563.41,156.05 L564.49,155.63 L565.59,155.21 L566.68,154.78 L567.79,154.36 L568.89,153.93 L570.00,153.51 L571.11,153.09 L572.23,152.66 L573.35,152.24 L574.48,151.81 L575.61,151.39 L576.74,150.97 L577.88,150.54 L579.02,150.12 L580.17,149.69 L581.32,149.27 L582.47,148.85 L583.63,148.42 L584.80,148.00 L585.96,147.57 L587.13,147.15 L588.31,146.73 L589.49,146.30 L590.67,145.88 L591.86,145.45 L593.05,145.03 L594.24,144.61 L595.44,144.18 L596.65,143.76 L597.86,143.34 L599.07,142.91 L600.28,142.49 L601.50,142.06 L602.73,141.64 L603.96,141.22 L605.19,140.79 L606.43,140.37 L607.67,139.94 L608.91,139.52 L610.16,139.10 L611.41,138.67 L612.67,138.25 L613.93,137.82 L615.20,137.40 L616.47,136.98 L617.74,136.55 L619.02,136.13 L620.30,135.70 L621.58,135.28 L622.87,134.86 L624.17,134.43 L625.47,134.01 L626.77,133.58 L628.07,133.16 L629.38,132.74 L630.70,132.31 L632.02,131.89 L633.34,131.46 L634.67,131.04 L636.00,130.62 L637.33,130.19 L638.67,129.77 L640.01,129.34 L641.36,128.92 L642.71,128.50 L644.07,128.07 L645.43,127.65 L646.79,127.23 L648.16,126.80 L649.53,126.38 L650.91,125.95 L652.29,125.53 L653.67,125.11 L655.06,124.68 L656.45,124.26 L657.85,123.83 L659.25,123.41 L660.65,122.99 L662.06,122.56 L663.48,122.14 L664.89,121.71 L666.31,121.29 L667.74,120.87 L669.17,120.44 L670.60,120.02 L672.04,119.59 L673.48,119.17 L674.93,118.75 L676.38,118.32 L677.83,117.90 L679.29,117.47 L680.75,117.05 L682.22,116.63 L683.69,116.20 L685.16,115.78 L686.64,115.35 L688.12,114.93 L689.61,114.51 L691.10,114.08 L692.59,113.66 L694.09,113.23 L695.60,112.81 L697.10,112.39 L698.62,111.96 L700.13,111.54 L701.65,111.12 L703.17,110.69 L704.70,110.27 L706.23,109.84 L707.77,109.42 L709.31,109.00 L710.85,108.57 L712.40,108.15 L713.95,107.72 L715.51,107.30 L717.07,106.88 L718.64,106.45 L720.20,106.03 L721.78,105.60 L723.35,105.18 L724.93,104.76 L726.52,104.33 L728.11,103.91 L729.70,103.48 L731.30,103.06 L732.90,102.64 L734.51,102.21 L736.12,101.79 L737.73,101.36 L739.35,100.94 L740.97,100.52 L742.60,100.09 L744.23,99.67 L745.86,99.24 L747.50,98.82" fill="none" stroke="#0072BD" stroke-width="2.1"/>
<line x1="419.40" y1="137.27" x2="747.50" y2="137.27" stroke="#D95319" stroke-width="2.1"/>
<line x1="419.40" y1="202.57" x2="747.50" y2="202.57" stroke="#EDB120" stroke-width="2.1"/>
<line x1="419.40" y1="226.91" x2="747.50" y2="226.91" stroke="#7E2F8E" stroke-width="2.1"/>
<rect x="40.00" y="9.30" width="328.50" height="259.20" fill="none" stroke="#858585" stroke-width="1"/>
<line x1="40.00" y1="268.50" x2="40.00" y2="265.30" stroke="#858585" stroke-width="0.5"/>
<line x1="40.00" y1="9.30" x2="40.00" y2="12.50" stroke="#858585" stroke-width="0.5"/>
<line x1="66.28" y1="268.50" x2="66.28" y2="265.30" stroke="#858585" stroke-width="0.5"/>
<line x1="66.28" y1="9.30" x2="66.28" y2="12.50" stroke="#858585" stroke-width="0.5"/>
<line x1="92.56" y1="268.50" x2="92.56" y2="265.30" stroke="#858585" stroke-width="0.5"/>
<line x1="92.56" y1="9.30" x2="92.56" y2="12.50" stroke="#858585" stroke-width="0.5"/>
<line x1="118.84" y1="268.50" x2="118.84" y2="265.30" stroke="#858585" stroke-width="0.5"/>
<line x1="118.84" y1="9.30" x2="118.84" y2="12.50" stroke="#858585" stroke-width="0.5"/>
<line x1="145.12" y1="268.50" x2="145.12" y2="265.30" stroke="#858585" stroke-width="0.5"/>
<line x1="145.12" y1="9.30" x2="145.12" y2="12.50" stroke="#858585" stroke-width="0.5"/>
<line x1="171.40" y1="268.50" x2="171.40" y2="265.30" stroke="#858585" stroke-width="0.5"/>
<line x1="171.40" y1="9.30" x2="171.40" y2="12.50" stroke="#858585" stroke-width="0.5"/>
<line x1="197.68" y1="268.50" x2="197.68" y2="265.30" stroke="#858585" stroke-width="0.5"/>
<line x1="197.68" y1="9.30" x2="197.68" y2="12.50" stroke="#858585" stroke-width="0.5"/>
<line x1="223.96" y1="268.50" x2="223.96" y2="265.30" stroke="#858585" stroke-width="0.5"/>
<line x1="223.96" y1="9.30" x2="223.96" y2="12.50" stroke="#858585" stroke-width="0.5"/>
<line x1="250.24" y1="268.50" x2="250.24" y2="265.30" stroke="#858585" stroke-width="0.5"/>
<line x1="250.24" y1="9.30" x2="250.24" y2="12.50" stroke="#858585" stroke-width="0.5"/>
<line x1="276.52" y1="268.50" x2="276.52" y2="265.30" stroke="#858585" stroke-width="0.5"/>
<line x1="276.52" y1="9.30" x2="276.52" y2="12.50" stroke="#858585" stroke-width="0.5"/>
<line x1="302.80" y1="268.50" x2="302.80" y2="265.30" stroke="#858585" stroke-width="0.5"/>
<line x1="302.80" y1="9.30" x2="302.80" y2="12.50" stroke="#858585" stroke-width="0.5"/>
<line x1="329.08" y1="268.50" x2="329.08" y2="265.30" stroke="#858585" stroke-width="0.5"/>
<line x1="329.08" y1="9.30" x2="329.08" y2="12.50" stroke="#858585" stroke-width="0.5"/>
<line x1="355.36" y1="268.50" x2="355.36" y2="265.30" stroke="#858585" stroke-width="0.5"/>
<line x1="355.36" y1="9.30" x2="355.36" y2="12.50" stroke="#858585" stroke-width="0.5"/>
<line x1="40.00" y1="268.50" x2="43.20" y2="268.50" stroke="#858585" stroke-width="0.5"/>
<line x1="368.50" y1="268.50" x2="365.30" y2="268.50" stroke="#858585" stroke-width="0.5"/>
<line x1="40.00" y1="233.94" x2="43.20" y2="233.94" stroke="#858585" stroke-width="0.5"/>
<line x1="368.50" y1="233.94" x2="365.30" y2="233.94" stroke="#858585" stroke-width="0.5"/>
<line x1="40.00" y1="199.38" x2="43.20" y2="199.38" stroke="#858585" stroke-width="0.5"/>
<line x1="368.50" y1="199.38" x2="365.30" y2="199.38" stroke="#858585" stroke-width="0.5"/>
<line x1="40.00" y1="164.82" x2="43.20" y2="164.82" stroke="#858585" stroke-width="0.5"/>
<line x1="368.50" y1="164.82" x2="365.30" y2="164.82" stroke="#858585" stroke-width="0.5"/>
<line x1="40.00" y1="130.26" x2="43.20" y2="130.26" stroke="#858585" stroke-width="0.5"/>
<line x1="368.50" y1="130.26" x2="365.30" y2="130.26" stroke="#858585" stroke-width="0.5"/>
<line x1="40.00" y1="95.70" x2="43.20" y2="95.70" stroke="#858585" stroke-width="0.5"/>
<line x1="368.50" y1="95.70" x2="365.30" y2="95.70" stroke="#858585" stroke-width="0.5"/>
<line x1="40.00" y1="61.14" x2="43.20" y2="61.14" stroke="#858585" stroke-width="0.5"/>
<line x1="368.50" y1="61.14" x2="365.30" y2="61.14" stroke="#858585" stroke-width="0.5"/>
<line x1="40.00" y1="26.58" x2="43.20" y2="26.58" stroke="#858585" stroke-width="0.5"/>
<line x1="368.50" y1="26.58" x2="365.30" y2="26.58" stroke="#858585" stroke-width="0.5"/>
<rect x="419.40" y="9.50" width="328.10" height="258.90" fill="none" stroke="#858585" stroke-width="1"/>
<line x1="419.40" y1="268.40" x2="419.40" y2="265.20" stroke="#858585" stroke-width="0.5"/>
<line x1="419.40" y1="9.50" x2="419.40" y2="12.70" stroke="#858585" stroke-width="0.5"/>
<line x1="445.65" y1="268.40" x2="445.65" y2="265.20" stroke="#858585" stroke-width="0.5"/>
<line x1="445.65" y1="9.50" x2="445.65" y2="12.70" stroke="#858585" stroke-width="0.5"/>
<line x1="471.90" y1="268.40" x2="471.90" y2="265.20" stroke="#858585" stroke-width="0.5"/>
<line x1="471.90" y1="9.50" x2="471.90" y2="12.70" stroke="#858585" stroke-width="0.5"/>
<line x1="498.14" y1="268.40" x2="498.14" y2="265.20" stroke="#858585" stroke-width="0.5"/>
<line x1="498.14" y1="9.50" x2="498.14" y2="12.70" stroke="#858585" stroke-width="0.5"/>
<line x1="524.39" y1="268.40" x2="524.39" y2="265.20" stroke="#858585" stroke-width="0.5"/>
<line x1="524.39" y1="9.50" x2="524.39" y2="12.70" stroke="#858585" stroke-width="0.5"/>
<line x1="550.64" y1="268.40" x2="550.64" y2="265.20" stroke="#858585" stroke-width="0.5"/>
<line x1="550.64" y1="9.50" x2="550.64" y2="12.70" stroke="#858585" stroke-width="0.5"/>
<line x1="576.89" y1="268.40" x2="576.89" y2="265.20" stroke="#858585" stroke-width="0.5"/>
<line x1="576.89" y1="9.50" x2="576.89" y2="12.70" stroke="#858585" stroke-width="0.5"/>
<line x1="603.14" y1="268.40" x2="603.14" y2="265.20" stroke="#858585" stroke-width="0.5"/>
<line x1="603.14" y1="9.50" x2="603.14" y2="12.70" stroke="#858585" stroke-width="0.5"/>
<line x1="629.38" y1="268.40" x2="629.38" y2="265.20" stroke="#858585" stroke-width="0.5"/>
<line x1="629.38" y1="9.50" x2="629.38" y2="12.70" stroke="#858585" stroke-width="0.5"/>
<line x1="655.63" y1="268.40" x2="655.63" y2="265.20" stroke="#858585" stroke-width="0.5"/>
<line x1="655.63" y1="9.50" x2="655.63" y2="12.70" stroke="#858585" stroke-width="0.5"/>
<line x1="681.88" y1="268.40" x2="681.88" y2="265.20" stroke="#858585" stroke-width="0.5"/>
<line x1="681.88" y1="9.50" x2="681.88" y2="12.70" stroke="#858585" stroke-width="0.5"/>
<line x1="708.13" y1="268.40" x2="708.13" y2="265.20" stroke="#858585" stroke-width="0.5"/>
<line x1="708.13" y1="9.50" x2="708.13" y2="12.70" stroke="#858585" stroke-width="0.5"/>
<line x1="734.38" y1="268.40" x2="734.38" y2="265.20" stroke="#858585" stroke-width="0.5"/>
<line x1="734.38" y1="9.50" x2="734.38" y2="12.70" stroke="#858585" stroke-width="0.5"/>
<line x1="419.40" y1="268.40" x2="422.60" y2="268.40" stroke="#858585" stroke-width="0.5"/>
<line x1="747.50" y1="268.40" x2="744.30" y2="268.40" stroke="#858585" stroke-width="0.5"/>
<line x1="419.40" y1="236.04" x2="422.60" y2="236.04" stroke="#858585" stroke-width="0.5"/>
<line x1="747.50" y1="236.04" x2="744.30" y2="236.04" stroke="#858585" stroke-width="0.5"/>
<line x1="419.40" y1="203.67" x2="422.60" y2="203.67" stroke="#858585" stroke-width="0.5"/>
<line x1="747.50" y1="203.67" x2="744.30" y2="203.67" stroke="#858585" stroke-width="0.5"/>
<line x1="419.40" y1="171.31" x2="422.60" y2="171.31" stroke="#858585" stroke-width="0.5"/>
<line x1="747.50" y1="171.31" x2="744.30" y2="171.31" stroke="#858585" stroke-width="0.5"/>
<line x1="419.40" y1="138.95" x2="422.60" y2="138.95" stroke="#858585" stroke-width="0.5"/>
<line x1="747.50" y1="138.95" x2="744.30" y2="138.95" stroke="#858585" stroke-width="0.5"/>
<line x1="419.40" y1="106.59" x2="422.60" y2="106.59" stroke="#858585" stroke-width="0.5"/>
<line x1="747.50" y1="106.59" x2="744.30" y2="106.59" stroke="#858585" stroke-width="0.5"/>
<line x1="419.40" y1="74.22" x2="422.60" y2="74.22" stroke="#858585" stroke-width="0.5"/>
<line x1="747.50" y1="74.22" x2="744.30" y2="74.22" stroke="#858585" stroke-width="0.5"/>
<line x1="419.40" y1="41.86" x2="422.60" y2="41.86" stroke="#858585" stroke-width="0.5"/>
<line x1="747.50" y1="41.86" x2="744.30" y2="41.86" stroke="#858585" stroke-width="0.5"/>
<line x1="419.40" y1="9.50" x2="422.60" y2="9.50" stroke="#858585" stroke-width="0.5"/>
<line x1="747.50" y1="9.50" x2="744.30" y2="9.50" stroke="#858585" stroke-width="0.5"/>
<circle cx="40.00" cy="268.50" r="2.5" fill="none" stroke="#77AC30" stroke-width="2.1"/>
<circle cx="40.96" cy="264.47" r="2.5" fill="none" stroke="#77AC30" stroke-width="2.1"/>
<circle cx="41.75" cy="263.13" r="2.5" fill="none" stroke="#77AC30" stroke-width="2.1"/>
<circle cx="42.88" cy="261.67" r="2.5" fill="none" stroke="#77AC30" stroke-width="2.1"/>
<circle cx="44.43" cy="260.10" r="2.5" fill="none" stroke="#77AC30" stroke-width="2.1"/>
<circle cx="46.44" cy="258.45" r="2.5" fill="none" stroke="#77AC30" stroke-width="2.1"/>
<circle cx="48.99" cy="256.71" r="2.5" fill="none" stroke="#77AC30" stroke-width="2.1"/>
<circle cx="52.14" cy="254.87" r="2.5" fill="none" stroke="#77AC30" stroke-width="2.1"/>
<circle cx="55.97" cy="252.96" r="2.5" fill="none" stroke="#77AC30" stroke-width="2.1"/>
<circle cx="60.50" cy="250.98" r="2.5" fill="none" stroke="#77AC30" stroke-width="2.1"/>
<circle cx="66.15" cy="248.81" r="2.5" fill="none" stroke="#77AC30" stroke-width="2.1"/>
<circle cx="71.80" cy="246.87" r="2.5" fill="none" stroke="#77AC30" stroke-width="2.1"/>
<circle cx="78.11" cy="244.91" r="2.5" fill="none" stroke="#77AC30" stroke-width="2.1"/>
<circle cx="85.73" cy="242.75" r="2.5" fill="none" stroke="#77AC30" stroke-width="2.1"/>
<circle cx="93.87" cy="240.64" r="2.5" fill="none" stroke="#77AC30" stroke-width="2.1"/>
<circle cx="102.94" cy="238.48" r="2.5" fill="none" stroke="#77AC30" stroke-width="2.1"/>
<circle cx="113.45" cy="236.17" r="2.5" fill="none" stroke="#77AC30" stroke-width="2.1"/>
<circle cx="125.41" cy="233.74" r="2.5" fill="none" stroke="#77AC30" stroke-width="2.1"/>
<circle cx="138.68" cy="231.25" r="2.5" fill="none" stroke="#77AC30" stroke-width="2.1"/>
<circle cx="152.87" cy="228.77" r="2.5" fill="none" stroke="#77AC30" stroke-width="2.1"/>
<circle cx="168.25" cy="226.26" r="2.5" fill="none" stroke="#77AC30" stroke-width="2.1"/>
<circle cx="186.77" cy="223.43" r="2.5" fill="none" stroke="#77AC30" stroke-width="2.1"/>
<circle cx="206.88" cy="220.56" r="2.5" fill="none" stroke="#77AC30" stroke-width="2.1"/>
<circle cx="227.90" cy="217.76" r="2.5" fill="none" stroke="#77AC30" stroke-width="2.1"/>
<circle cx="251.42" cy="214.80" r="2.5" fill="none" stroke="#77AC30" stroke-width="2.1"/>
<circle cx="277.44" cy="211.72" r="2.5" fill="none" stroke="#77AC30" stroke-width="2.1"/>
<circle cx="305.30" cy="208.62" r="2.5" fill="none" stroke="#77AC30" stroke-width="2.1"/>
<circle cx="335.26" cy="205.46" r="2.5" fill="none" stroke="#77AC30" stroke-width="2.1"/>
<circle cx="368.50" cy="202.15" r="2.5" fill="none" stroke="#77AC30" stroke-width="2.1"/>
<text x="40.00" y="278.8" font-size="11" text-anchor="middle" fill="#262626">0</text>
<text x="419.40" y="278.8" font-size="11" text-anchor="middle" fill="#262626">0</text>
<text x="66.28" y="278.8" font-size="11" text-anchor="middle" fill="#262626">2</text>
<text x="445.65" y="278.8" font-size="11" text-anchor="middle" fill="#262626">2</text>
<text x="92.56" y="278.8" font-size="11" text-anchor="middle" fill="#262626">4</text>
<text x="471.90" y="278.8" font-size="11" text-anchor="middle" fill="#262626">4</text>
<text x="118.84" y="278.8" font-size="11" text-anchor="middle" fill="#262626">6</text>
<text x="498.14" y="278.8" font-size="11" text-anchor="middle" fill="#262626">6</text>
<text x="145.12" y="278.8" font-size="11" text-anchor="middle" fill="#262626">8</text>
<text x="524.39" y="278.8" font-size="11" text-anchor="middle" fill="#262626">8</text>
<text x="171.40" y="278.8" font-size="11" text-anchor="middle" fill="#262626">10</text>
<text x="550.64" y="278.8" font-size="11" text-anchor="middle" fill="#262626">10</text>
<text x="197.68" y="278.8" font-size="11" text-anchor="middle" fill="#262626">12</text>
<text x="576.89" y="278.8" font-size="11" text-anchor="middle" fill="#262626">12</text>
<text x="223.96" y="278.8" font-size="11" text-anchor="middle" fill="#262626">14</text>
<text x="603.14" y="278.8" font-size="11" text-anchor="middle" fill="#262626">14</text>
<text x="250.24" y="278.8" font-size="11" text-anchor="middle" fill="#262626">16</text>
<text x="629.38" y="278.8" font-size="11" text-anchor="middle" fill="#262626">16</text>
<text x="276.52" y="278.8" font-size="11" text-anchor="middle" fill="#262626">18</text>
<text x="655.63" y="278.8" font-size="11" text-anchor="middle" fill="#262626">18</text>
<text x="302.80" y="278.8" font-size="11" text-anchor="middle" fill="#262626">20</text>
<text x="681.88" y="278.8" font-size="11" text-anchor="middle" fill="#262626">20</text>
<text x="329.08" y="278.8" font-size="11" text-anchor="middle" fill="#262626">22</text>
<text x="708.13" y="278.8" font-size="11" text-anchor="middle" fill="#262626">22</text>
<text x="355.36" y="278.8" font-size="11" text-anchor="middle" fill="#262626">24</text>
<text x="734.38" y="278.8" font-size="11" text-anchor="middle" fill="#262626">24</text>
<text x="36.5" y="272.30" font-size="11" text-anchor="end" fill="#262626">0</text>
<text x="36.5" y="237.74" font-size="11" text-anchor="end" fill="#262626">2</text>
<text x="36.5" y="203.18" font-size="11" text-anchor="end" fill="#262626">4</text>
<text x="36.5" y="168.62" font-size="11" text-anchor="end" fill="#262626">6</text>
<text x="36.5" y="134.06" font-size="11" text-anchor="end" fill="#262626">8</text>
<text x="36.5" y="99.50" font-size="11" text-anchor="end" fill="#262626">10</text>
<text x="36.5" y="64.94" font-size="11" text-anchor="end" fill="#262626">12</text>
<text x="36.5" y="30.38" font-size="11" text-anchor="end" fill="#262626">14</text>
<text x="416.2" y="272.20" font-size="11" text-anchor="end" fill="#262626">0</text>
<text x="416.2" y="239.84" font-size="11" text-anchor="end" fill="#262626">0.5</text>
<text x="416.2" y="207.47" font-size="11" text-anchor="end" fill="#262626">1</text>
<text x="416.2" y="175.11" font-size="11" text-anchor="end" fill="#262626">1.5</text>
<text x="416.2" y="142.75" font-size="11" text-anchor="end" fill="#262626">2</text>
<text x="416.2" y="110.39" font-size="11" text-anchor="end" fill="#262626">2.5</text>
<text x="416.2" y="78.02" font-size="11" text-anchor="end" fill="#262626">3</text>
<text x="416.2" y="45.66" font-size="11" text-anchor="end" fill="#262626">3.5</text>
<text x="416.2" y="13.30" font-size="11" text-anchor="end" fill="#262626">4</text>
<text x="108.4" y="296.7" font-size="15.2" fill="#262626" textLength="191.8" lengthAdjust="spacingAndGlyphs">Transmitter coil radius <tspan font-style="italic">r</tspan><tspan font-style="italic" font-size="10" dy="2.3">T</tspan><tspan dy="-2.3"> [cm]</tspan></text>
<text x="497.4" y="296.7" font-size="15.2" fill="#262626" textLength="172.6" lengthAdjust="spacingAndGlyphs">Receiver coil radius <tspan font-style="italic">r</tspan><tspan font-style="italic" font-size="10" dy="2.3">R</tspan><tspan dy="-2.3"> [cm]</tspan></text>
<text transform="translate(15.6,170) rotate(-90)" font-size="15.2" fill="#262626" textLength="63.5" lengthAdjust="spacingAndGlyphs">Range [m]</text>
<text transform="translate(392.4,170) rotate(-90)" font-size="15.2" fill="#262626" textLength="63.5" lengthAdjust="spacingAndGlyphs">Range [m]</text>
<text x="177.9" y="323.8" font-size="16" fill="#000" textLength="16" lengthAdjust="spacingAndGlyphs">(<tspan font-weight="bold">a</tspan>)</text>
<text x="553.9" y="323.8" font-size="16" fill="#000" textLength="18" lengthAdjust="spacingAndGlyphs">(<tspan font-weight="bold">b</tspan>)</text>
<rect x="50.50" y="17.30" width="211.00" height="82.80" fill="#fff" stroke="#858585" stroke-width="1"/>
<line x1="54.00" y1="27.60" x2="70.80" y2="27.60" stroke="#0072BD" stroke-width="2.1"/>
<text x="73.60" y="31.70" font-size="15" fill="#000" textLength="126.2" lengthAdjust="spacingAndGlyphs">Coil-to-coil with Δd</text>
<circle cx="62.60" cy="43.32" r="2.5" fill="none" stroke="#77AC30" stroke-width="2.1"/>
<text x="73.60" y="47.42" font-size="15" fill="#000" textLength="123.2" lengthAdjust="spacingAndGlyphs">Coil-to-coil approx.</text>
<line x1="54.00" y1="59.04" x2="70.80" y2="59.04" stroke="#D95319" stroke-width="2.1"/>
<text x="73.60" y="63.14" font-size="15" fill="#000" textLength="168.2" lengthAdjust="spacingAndGlyphs">Coil-to-AMR sensor (5 nT)</text>
<line x1="54.00" y1="74.76" x2="70.80" y2="74.76" stroke="#EDB120" stroke-width="2.1"/>
<text x="73.60" y="78.86" font-size="15" fill="#000" textLength="175.4" lengthAdjust="spacingAndGlyphs">Coil-to-AMR sensor (39 nT)</text>
<line x1="54.00" y1="90.48" x2="70.80" y2="90.48" stroke="#7E2F8E" stroke-width="2.1"/>
<text x="73.60" y="94.58" font-size="15" fill="#000" textLength="182.3" lengthAdjust="spacingAndGlyphs">Coil-to-AMR sensor (155 nT)</text>
<rect x="429.40" y="17.50" width="294.20" height="67.40" fill="#fff" stroke="#858585" stroke-width="1"/>
<line x1="432.90" y1="27.90" x2="449.70" y2="27.90" stroke="#0072BD" stroke-width="2.1"/>
<text x="453.10" y="32.00" font-size="15" fill="#000" textLength="71.2" lengthAdjust="spacingAndGlyphs">Coil-to-coil</text>
<line x1="432.90" y1="43.60" x2="449.70" y2="43.60" stroke="#D95319" stroke-width="2.1"/>
<text x="453.10" y="47.70" font-size="15" fill="#000" textLength="251.6" lengthAdjust="spacingAndGlyphs">Reference for coil-to-AMR sensor (5 nT)</text>
<line x1="432.90" y1="59.30" x2="449.70" y2="59.30" stroke="#EDB120" stroke-width="2.1"/>
<text x="453.10" y="63.40" font-size="15" fill="#000" textLength="258.6" lengthAdjust="spacingAndGlyphs">Reference for coil-to-AMR sensor (39 nT)</text>
<line x1="432.90" y1="75.00" x2="449.70" y2="75.00" stroke="#7E2F8E" stroke-width="2.1"/>
<text x="453.10" y="79.10" font-size="15" fill="#000" textLength="265.2" lengthAdjust="spacingAndGlyphs">Reference for coil-to-AMR sensor (155 nT)</text>
</svg></body></html>
